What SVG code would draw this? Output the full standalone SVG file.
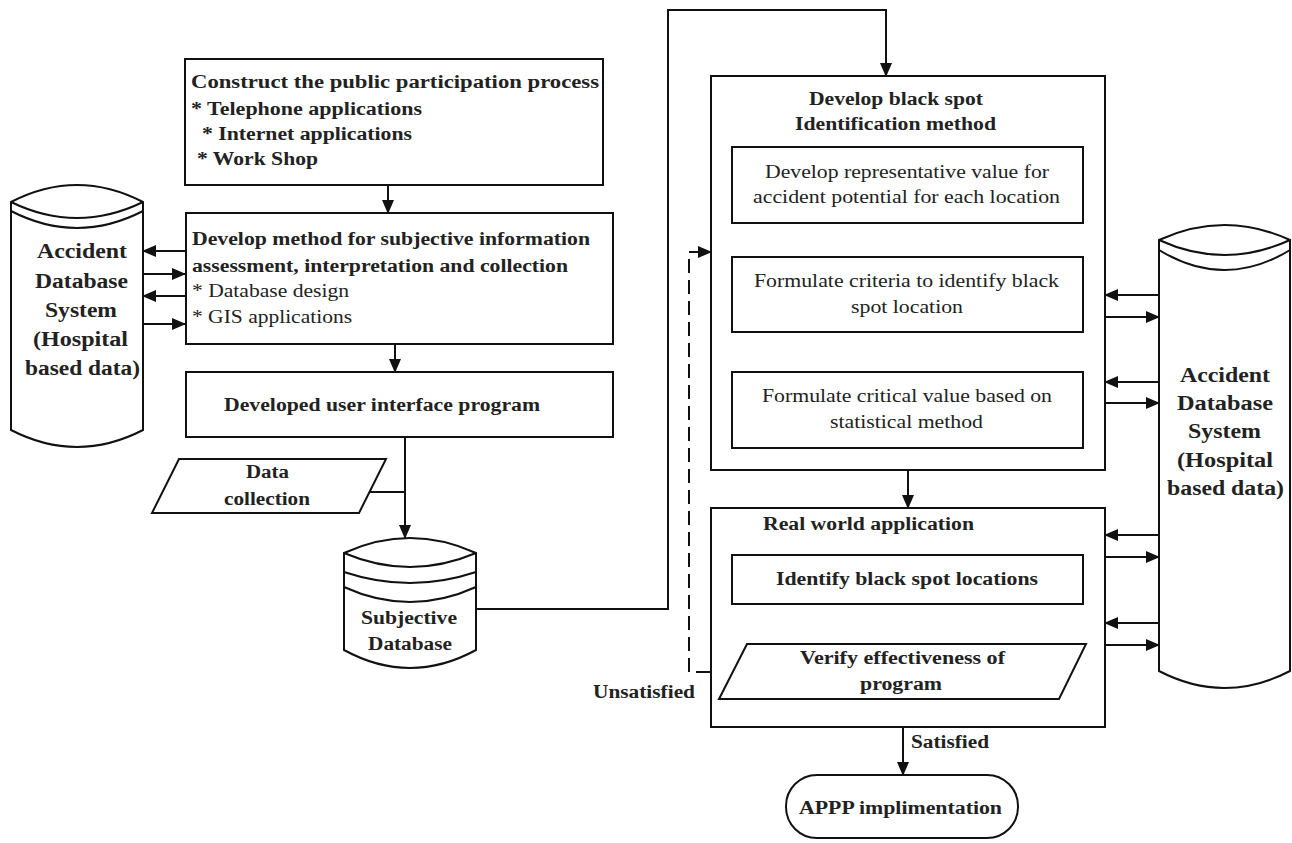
<svg xmlns="http://www.w3.org/2000/svg" width="1292" height="843" viewBox="0 0 1292 843">
<style>
.s{fill:none;stroke:#111;stroke-width:2}
.w{fill:#fff;stroke:#111;stroke-width:2}
.c{stroke:#111;stroke-width:2;fill:none}
.t{font-family:"Liberation Serif","Times New Roman",serif;font-size:18px;fill:#222;font-weight:bold}
.n{font-weight:normal}
.big{font-size:20px}
</style>
<defs>
<marker id="ah" viewBox="0 0 14 12" refX="13" refY="6" markerWidth="14" markerHeight="12" markerUnits="userSpaceOnUse" orient="auto"><path d="M0,0 L14,6 L0,12 z" fill="#111"/></marker>
</defs>
<rect width="1292" height="843" fill="#fff"/>

<g id="connectors">
<path class="c" d="M388,185 V213" marker-end="url(#ah)"/>
<path class="c" d="M395,344 V372" marker-end="url(#ah)"/>
<path class="c" d="M405,437 V538" marker-end="url(#ah)"/>
<path class="c" d="M370,492 H405"/>
<path class="c" d="M476,609 H668 V10 H886 V76" marker-end="url(#ah)"/>
<path class="c" d="M908,223 V257" marker-end="url(#ah)"/>
<path class="c" d="M908,332 V372" marker-end="url(#ah)"/>
<path class="c" d="M908,470 V508" marker-end="url(#ah)"/>
<path class="c" d="M908,604 V644" marker-end="url(#ah)"/>
<path class="c" d="M903,699 V775" marker-end="url(#ah)"/>
<path class="c" d="M731,672 H689 V252 H711" stroke-dasharray="14 7" marker-end="url(#ah)"/>
<path class="c" d="M185,251 H143" marker-end="url(#ah)"/>
<path class="c" d="M143,274 H185" marker-end="url(#ah)"/>
<path class="c" d="M185,296 H143" marker-end="url(#ah)"/>
<path class="c" d="M143,324 H185" marker-end="url(#ah)"/>
<path class="c" d="M1159,295 H1105" marker-end="url(#ah)"/>
<path class="c" d="M1105,317 H1159" marker-end="url(#ah)"/>
<path class="c" d="M1159,382 H1105" marker-end="url(#ah)"/>
<path class="c" d="M1105,403 H1159" marker-end="url(#ah)"/>
<path class="c" d="M1159,535 H1105" marker-end="url(#ah)"/>
<path class="c" d="M1105,557 H1159" marker-end="url(#ah)"/>
<path class="c" d="M1159,623 H1105" marker-end="url(#ah)"/>
<path class="c" d="M1105,645 H1159" marker-end="url(#ah)"/>
</g>

<g id="left-db">
<path class="w" d="M11,202 Q77,168 143,202 V430 Q77,464 11,430 Z"/>
<path class="s" d="M11,202 Q77,234 143,202"/>
<path class="s" d="M11,211 Q77,245 143,211"/>
<text class="t big" x="37" y="258" textLength="90" lengthAdjust="spacingAndGlyphs">Accident</text>
<text class="t big" x="35" y="288" textLength="93" lengthAdjust="spacingAndGlyphs">Database</text>
<text class="t big" x="45" y="317" textLength="72" lengthAdjust="spacingAndGlyphs">System</text>
<text class="t big" x="33" y="346" textLength="95" lengthAdjust="spacingAndGlyphs">(Hospital</text>
<text class="t big" x="25" y="375" textLength="115" lengthAdjust="spacingAndGlyphs">based data)</text>
</g>

<g id="construct">
<rect class="w" x="185" y="59" width="418" height="126"/>
<text class="t" x="191" y="88" textLength="408" lengthAdjust="spacingAndGlyphs">Construct the public participation process</text>
<text class="t" x="191" y="115" textLength="231" lengthAdjust="spacingAndGlyphs">* Telephone applications</text>
<text class="t" x="202" y="140" textLength="210" lengthAdjust="spacingAndGlyphs">* Internet applications</text>
<text class="t" x="197" y="165" textLength="121" lengthAdjust="spacingAndGlyphs">* Work Shop</text>
</g>

<g id="develop-method">
<rect class="w" x="186" y="213" width="427" height="131"/>
<text class="t" x="192" y="245" textLength="398" lengthAdjust="spacingAndGlyphs">Develop method for subjective information</text>
<text class="t" x="192" y="272" textLength="376" lengthAdjust="spacingAndGlyphs">assessment, interpretation and collection</text>
<text class="t n" x="192" y="297" textLength="157" lengthAdjust="spacingAndGlyphs">* Database design</text>
<text class="t n" x="192" y="323" textLength="160" lengthAdjust="spacingAndGlyphs">* GIS applications</text>
</g>

<g id="ui-program">
<rect class="w" x="186" y="372" width="427" height="65"/>
<text class="t" x="224" y="411" textLength="316" lengthAdjust="spacingAndGlyphs">Developed user interface program</text>
</g>

<g id="data-collection">
<path class="w" d="M179,459 H386 L359,513 H152 Z"/>
<text class="t" x="246" y="478" textLength="43" lengthAdjust="spacingAndGlyphs">Data</text>
<text class="t" x="224" y="505" textLength="86" lengthAdjust="spacingAndGlyphs">collection</text>
</g>

<g id="subjective-db">
<path class="w" d="M344,553 Q410,523 476,553 V650 Q410,686 344,650 Z"/>
<path class="s" d="M344,553 Q410,581 476,553"/>
<path class="s" d="M344,572 Q410,594 476,572"/>
<path class="s" d="M344,587 Q410,617 476,587"/>
<text class="t" x="361" y="624" textLength="96" lengthAdjust="spacingAndGlyphs">Subjective</text>
<text class="t" x="368" y="650" textLength="84" lengthAdjust="spacingAndGlyphs">Database</text>
</g>

<g id="blackspot-method">
<rect class="w" x="711" y="76" width="394" height="394"/>
<text class="t" x="809" y="105" textLength="174" lengthAdjust="spacingAndGlyphs">Develop black spot</text>
<text class="t" x="795" y="130" textLength="201" lengthAdjust="spacingAndGlyphs">Identification method</text>
</g>

<g id="representative-value">
<rect class="w" x="732" y="147" width="351" height="76"/>
<text class="t n" x="765" y="178" textLength="284" lengthAdjust="spacingAndGlyphs">Develop representative value for</text>
<text class="t n" x="753" y="203" textLength="307" lengthAdjust="spacingAndGlyphs">accident potential for each location</text>
</g>

<g id="criteria">
<rect class="w" x="732" y="257" width="351" height="75"/>
<text class="t n" x="754" y="287" textLength="305" lengthAdjust="spacingAndGlyphs">Formulate criteria to identify black</text>
<text class="t n" x="851" y="313" textLength="112" lengthAdjust="spacingAndGlyphs">spot location</text>
</g>

<g id="critical-value">
<rect class="w" x="732" y="372" width="351" height="76"/>
<text class="t n" x="762" y="402" textLength="290" lengthAdjust="spacingAndGlyphs">Formulate critical value based on</text>
<text class="t n" x="830" y="428" textLength="153" lengthAdjust="spacingAndGlyphs">statistical method</text>
</g>

<g id="real-world">
<rect class="w" x="711" y="508" width="394" height="219"/>
<text class="t" x="763" y="530" textLength="211" lengthAdjust="spacingAndGlyphs">Real world application</text>
</g>

<g id="identify">
<rect class="w" x="732" y="555" width="351" height="49"/>
<text class="t" x="776" y="585" textLength="262" lengthAdjust="spacingAndGlyphs">Identify black spot locations</text>
</g>

<g id="verify">
<path class="w" d="M747,644 H1086 L1059,699 H719 Z"/>
<text class="t" x="800" y="664" textLength="205" lengthAdjust="spacingAndGlyphs">Verify effectiveness of</text>
<text class="t" x="860" y="690" textLength="82" lengthAdjust="spacingAndGlyphs">program</text>
</g>

<g id="labels">
<text class="t" x="593" y="698" textLength="102" lengthAdjust="spacingAndGlyphs">Unsatisfied</text>
<text class="t" x="911" y="748" textLength="78" lengthAdjust="spacingAndGlyphs">Satisfied</text>
</g>

<g id="appp">
<rect class="w" x="786" y="775" width="232" height="63" rx="31" ry="31"/>
<text class="t" x="799" y="814" textLength="203" lengthAdjust="spacingAndGlyphs">APPP implimentation</text>
</g>

<g id="right-db">
<path class="w" d="M1159,240 Q1224.5,210 1290,240 V671 Q1224.5,705 1159,671 Z"/>
<path class="s" d="M1159,240 Q1224.5,270 1290,240"/>
<path class="s" d="M1159,250 Q1224.5,290 1290,250"/>
<text class="t big" x="1180" y="382" textLength="90" lengthAdjust="spacingAndGlyphs">Accident</text>
<text class="t big" x="1177" y="410" textLength="96" lengthAdjust="spacingAndGlyphs">Database</text>
<text class="t big" x="1188" y="438" textLength="73" lengthAdjust="spacingAndGlyphs">System</text>
<text class="t big" x="1177" y="467" textLength="96" lengthAdjust="spacingAndGlyphs">(Hospital</text>
<text class="t big" x="1167" y="495" textLength="117" lengthAdjust="spacingAndGlyphs">based data)</text>
</g>
</svg>
